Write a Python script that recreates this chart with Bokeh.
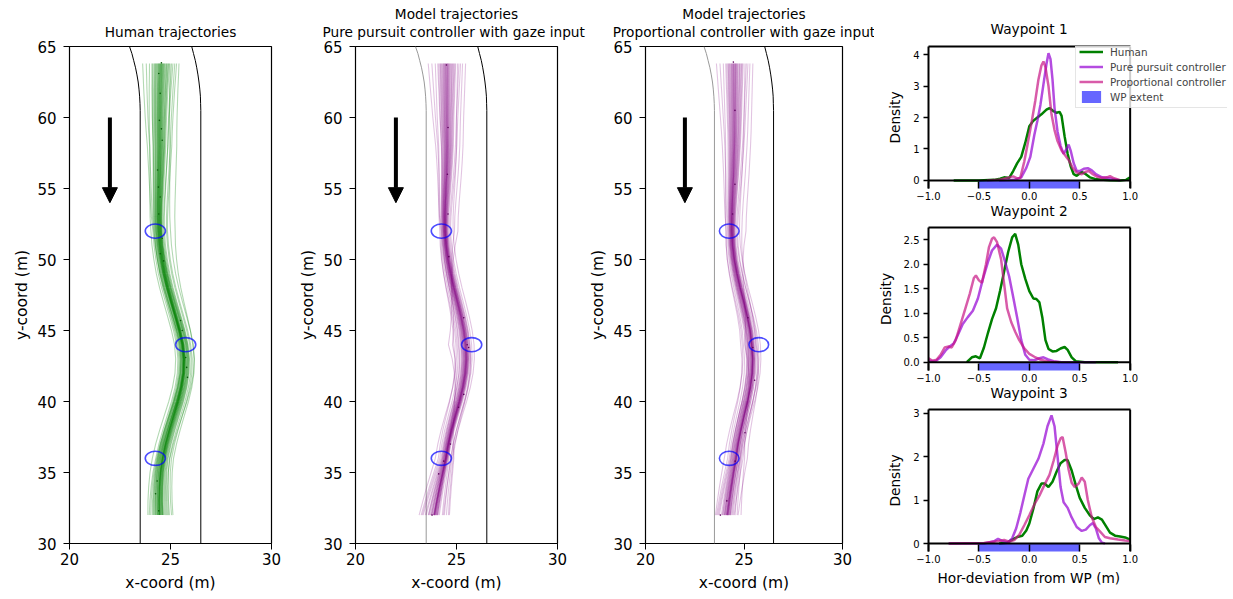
import numpy as np
from bokeh.plotting import figure
from bokeh.layouts import row, column
from bokeh.models import (Range1d, FixedTicker, LinearAxis, Arrow, NormalHead,
                          Span, Legend, LegendItem, Title)
from bokeh.embed import file_html
from bokeh.resources import INLINE

FONT = "DejaVu Sans"

# ---------------- road, waypoints, driving direction (metres) ----------------
ROAD_EDGE_Y = [65.0, 64.5, 64.0, 63.5, 63.0, 62.5, 62.0, 61.5, 61.0, 60.5, 30.0]
ROAD_LEFT_X = [22.97, 23.09, 23.18, 23.27, 23.34, 23.40, 23.44, 23.47, 23.49, 23.50, 23.50]
ROAD_RIGHT_X = [26.05, 26.14, 26.23, 26.30, 26.36, 26.41, 26.45, 26.48, 26.49, 26.50, 26.50]

WP_X = [24.25, 25.75, 24.25]
WP_Y = [52.0, 44.0, 36.0]
WP_RADIUS = 0.5
WP_EXTENT = [-0.5, 0.5]

ARROW_X = 22.0
ARROW_Y = [60.0, 54.0]

X_TICKS = [20, 25, 30]
Y_TICKS = [30, 35, 40, 45, 50, 55, 60, 65]
DENS_X_LIMITS = [-1.0, 1.0]
DENS_X_TICKS = [-1, -0.5, 0, 0.5, 1]

# ---------------- trajectory bundles ----------------
# mean lateral position of each bundle along the road
Y_GRID = [63.8, 63, 62, 61, 60, 59, 58, 57, 56, 55, 54, 53, 52, 51, 50, 49, 48,
          47, 46, 45, 44, 43, 42, 41, 40, 39, 38, 37, 36, 35, 34, 33, 32]
HUMAN_CENTER = [24.55, 24.53, 24.50, 24.48, 24.46, 24.45, 24.45, 24.43, 24.41, 24.39,
                24.37, 24.36, 24.38, 24.43, 24.52, 24.64, 24.80, 24.99, 25.19, 25.38,
                25.53, 25.60, 25.58, 25.47, 25.30, 25.09, 24.88, 24.69, 24.54, 24.45,
                24.41, 24.40, 24.42]
PP_CENTER = [24.50, 24.50, 24.50, 24.50, 24.50, 24.51, 24.52, 24.51, 24.49, 24.46,
             24.43, 24.41, 24.42, 24.47, 24.56, 24.69, 24.85, 25.03, 25.20, 25.34,
             25.43, 25.45, 25.39, 25.26, 25.08, 24.87, 24.67, 24.50, 24.37, 24.24,
             24.11, 23.99, 23.88]
PR_CENTER = [24.50, 24.50, 24.50, 24.50, 24.50, 24.50, 24.49, 24.47, 24.45, 24.42,
             24.39, 24.37, 24.37, 24.41, 24.50, 24.64, 24.81, 25.00, 25.18, 25.33,
             25.42, 25.45, 25.41, 25.30, 25.14, 24.95, 24.77, 24.61, 24.49, 24.39,
             24.30, 24.22, 24.15]

# individual runs: start x, deviation at WP1/WP2/WP3, end x
HUMAN_START = [24.52, 24.31, 24.88, 24.12, 24.65, 25.21, 24.44, 23.96, 24.73, 24.58,
               24.25, 24.95, 24.40, 25.42, 24.60, 24.18, 24.83, 24.50, 23.62, 24.70,
               24.35, 25.05, 24.47, 24.62, 24.08, 24.90, 24.55, 25.30, 24.28, 24.77,
               24.43, 23.80, 24.67, 24.56, 25.12, 24.38, 24.81, 24.49, 24.22, 24.98]
HUMAN_DEV1 = [0.18, 0.05, 0.31, -0.06, 0.22, 0.55, 0.14, -0.22, 0.26, 0.20,
              0.02, 0.36, 0.12, 0.98, 0.24, -0.03, 0.29, 0.17, -0.12, 0.27,
              0.09, 0.45, 0.16, 0.23, 0.00, 0.32, 0.19, 0.60, 0.07, 0.28,
              0.13, -0.08, 0.25, 0.21, 0.40, 0.11, 0.30, 0.15, 0.04, 0.75]
HUMAN_DEV2 = [-0.14, -0.28, 0.04, -0.35, -0.12, 0.20, -0.17, -0.55, -0.08, -0.15,
              -0.30, 0.08, -0.19, 0.35, -0.10, -0.40, -0.02, -0.16, -0.45, -0.06,
              -0.22, 0.12, -0.18, -0.11, -0.32, 0.06, -0.13, 0.25, -0.24, 0.00,
              -0.20, -0.26, -0.09, -0.15, 0.10, -0.21, 0.02, -0.17, -0.12, 0.38]
HUMAN_DEV3 = [0.35, 0.20, 0.50, 0.11, 0.38, 0.70, 0.33, -0.15, 0.45, 0.36,
              0.15, 0.56, 0.28, 0.90, 0.40, 0.09, 0.47, 0.32, 0.02, 0.43,
              0.23, 0.63, 0.30, 0.41, 0.13, 0.53, 0.37, 0.80, 0.17, 0.44,
              0.26, 0.06, 0.39, 0.35, 0.60, 0.25, 0.48, 0.34, 0.20, 0.72]
HUMAN_END = [24.45, 24.30, 24.65, 24.15, 24.50, 24.95, 24.42, 23.88, 24.60, 24.47,
             24.22, 24.75, 24.38, 25.12, 24.52, 24.10, 24.62, 24.44, 23.95, 24.57,
             24.33, 24.85, 24.40, 24.55, 24.18, 24.70, 24.46, 25.05, 24.27, 24.58,
             24.36, 24.02, 24.50, 24.45, 24.80, 24.35, 24.62, 24.43, 24.25, 24.90]

MODEL_START = [24.50, 24.30, 24.85, 24.12, 24.62, 25.20, 24.42, 23.95, 24.70, 24.56,
               24.24, 24.92, 24.38, 25.45, 24.58, 24.18, 24.80, 24.48, 23.60, 24.68,
               24.34, 25.05, 24.46, 24.60, 24.07, 24.88, 24.53, 25.30, 24.27, 24.75,
               24.41, 23.78, 24.65, 24.55, 25.12, 24.36, 24.78, 24.47, 24.20, 24.96]

PP_DEV1 = [0.19, 0.10, 0.28, 0.02, 0.21, 0.45, 0.15, -0.08, 0.25, 0.18,
           0.06, 0.32, 0.13, 0.82, 0.20, 0.04, 0.27, 0.17, -0.02, 0.23,
           0.11, 0.58, 0.16, 0.22, 0.08, 0.30, 0.19, 0.65, 0.12, 0.24,
           0.14, 0.00, 0.21, 0.18, 0.40, 0.13, 0.26, 0.17, 0.09, 0.35]
PP_DEV2 = [-0.30, -0.45, -0.18, -0.55, -0.27, 0.00, -0.36, -0.78, -0.22, -0.31,
           -0.50, -0.12, -0.40, -1.15, -0.28, -0.62, -0.20, -0.33, -0.88, -0.25,
           -0.43, 0.12, -0.35, -0.27, -0.66, -0.15, -0.32, -0.95, -0.47, -0.23,
           -0.38, -0.72, -0.26, -0.30, -0.08, -0.41, -0.19, -0.34, -0.52, -0.10]
PP_DEV3 = [0.22, 0.12, 0.30, 0.02, 0.24, 0.45, 0.18, -0.30, 0.27, 0.21,
           0.06, 0.35, 0.16, 0.62, 0.23, -0.02, 0.28, 0.20, -0.15, 0.25,
           0.14, 0.52, 0.19, 0.23, 0.05, 0.32, 0.22, 0.38, 0.10, 0.26,
           0.17, -0.08, 0.24, 0.21, 0.48, 0.13, 0.29, 0.20, 0.09, 0.58]
PP_END = [23.90, 23.70, 24.05, 23.45, 23.92, 24.40, 23.85, 23.15, 24.00, 23.90,
          23.60, 24.15, 23.80, 24.65, 23.95, 23.35, 24.05, 23.88, 23.25, 23.98,
          23.75, 24.50, 23.85, 23.93, 23.50, 24.10, 23.90, 24.30, 23.65, 24.00,
          23.78, 23.30, 23.95, 23.90, 24.35, 23.75, 24.05, 23.88, 23.62, 24.60]

PR_DEV1 = [0.14, 0.05, 0.24, -0.02, 0.17, 0.42, 0.10, -0.17, 0.20, 0.13,
           0.02, 0.28, 0.08, 0.85, 0.15, 0.00, 0.23, 0.12, -0.15, 0.18,
           0.06, 0.52, 0.11, 0.16, -0.05, 0.26, 0.14, 0.64, 0.04, 0.21,
           0.09, -0.08, 0.19, 0.13, 0.36, 0.07, 0.22, 0.12, 0.03, 0.30]
PR_DEV2 = [-0.35, -0.52, -0.26, -0.60, -0.37, -0.08, -0.42, -0.84, -0.30, -0.36,
           -0.56, -0.20, -0.45, -0.72, -0.33, -0.64, -0.28, -0.39, -0.92, -0.34,
           -0.49, 0.08, -0.40, -0.36, -0.68, -0.24, -0.35, -0.16, -0.54, -0.31,
           -0.44, -0.78, -0.33, -0.38, -0.02, -0.47, -0.27, -0.39, -0.57, -0.13]
PR_DEV3 = [0.33, 0.18, 0.45, 0.05, 0.36, 0.58, 0.28, -0.25, 0.40, 0.34,
           0.12, 0.52, 0.25, 0.78, 0.35, 0.08, 0.47, 0.31, -0.08, 0.38,
           0.22, 0.63, 0.30, 0.37, 0.10, 0.54, 0.33, 0.70, 0.18, 0.42,
           0.27, 0.00, 0.37, 0.34, 0.56, 0.23, 0.46, 0.31, 0.15, 0.92]
PR_END = [24.15, 24.00, 24.30, 23.70, 24.18, 24.55, 24.10, 23.55, 24.25, 24.15,
          23.90, 24.40, 24.05, 24.85, 24.20, 23.75, 24.30, 24.12, 23.60, 24.22,
          24.00, 24.65, 24.10, 24.18, 23.85, 24.35, 24.15, 24.50, 23.95, 24.25,
          24.05, 23.65, 24.20, 24.15, 24.45, 24.02, 24.30, 24.12, 23.92, 24.70]

# gaze landing points on the road
HUMAN_DOT_X = [24.55, 24.42, 24.49, 24.45, 24.55, 24.59, 24.36, 24.40, 24.49, 24.42,
               24.59, 24.49, 24.66, 25.50, 25.58, 25.75, 25.80, 25.84, 24.34, 24.26, 24.42]
HUMAN_DOT_Y = [63.85, 63.1, 61.7, 59.8, 59.2, 58.4, 56.3, 55.1, 54.4, 53.2,
               51.5, 50.4, 49.9, 45.7, 45.0, 43.1, 42.4, 41.7, 34.4, 33.5, 32.3]
PP_DOT_X = [24.50, 24.58, 24.55, 24.58, 24.62, 25.36, 25.53, 25.60, 25.36, 25.10,
            24.70, 24.37, 24.12, 23.79]
PP_DOT_Y = [63.7, 59.3, 56.0, 53.2, 50.2, 45.9, 44.0, 43.8, 40.5, 39.6,
            37.0, 35.8, 34.9, 32.0]
PR_DOT_X = [24.46, 24.54, 24.54, 24.42, 25.20, 25.45, 25.54, 25.05, 24.55, 24.13, 23.80]
PR_DOT_Y = [63.9, 60.5, 55.3, 53.2, 45.9, 43.8, 41.5, 37.8, 35.8, 33.0, 32.0]

# ---------------- deviation densities at each waypoint ----------------
WP1_HUMAN_X = [-0.75, -0.5, -0.35, -0.29, -0.25, -0.2, -0.16, -0.12, -0.08, -0.04, 0.0,
               0.04, 0.08, 0.12, 0.17, 0.2, 0.24, 0.27, 0.3, 0.32, 0.35, 0.38, 0.41,
               0.44, 0.47, 0.52, 0.56, 0.6, 0.65, 0.7, 0.8, 0.9, 0.96, 1.0]
WP1_HUMAN_D = [0.0, 0.0, 0.02, 0.06, 0.1, 0.08, 0.3, 0.55, 0.75, 1.2, 1.72,
               1.9, 2.0, 2.1, 2.25, 2.3, 2.2, 2.15, 2.18, 2.05, 1.4, 0.85, 0.45,
               0.2, 0.15, 0.27, 0.2, 0.1, 0.05, 0.03, 0.01, 0.0, 0.02, 0.1]
WP1_PP_X = [-0.3, -0.15, -0.08, -0.03, 0.01, 0.05, 0.08, 0.11, 0.14, 0.17, 0.19, 0.21,
            0.23, 0.25, 0.28, 0.31, 0.34, 0.37, 0.39, 0.41, 0.44, 0.47, 0.5, 0.54,
            0.58, 0.62, 0.66, 0.72, 0.78, 0.84, 0.9]
WP1_PP_D = [0.0, 0.02, 0.1, 0.4, 0.75, 1.45, 1.9, 2.4, 3.05, 3.7, 4.04, 3.85,
            3.2, 2.3, 1.55, 1.1, 0.85, 1.0, 1.14, 0.95, 0.55, 0.3, 0.3, 0.37,
            0.39, 0.32, 0.2, 0.1, 0.08, 0.04, 0.0]
WP1_PR_X = [-0.42, -0.3, -0.2, -0.16, -0.12, -0.09, -0.05, -0.02, 0.02, 0.06, 0.09,
            0.12, 0.14, 0.16, 0.19, 0.22, 0.25, 0.28, 0.32, 0.36, 0.39, 0.43, 0.47,
            0.52, 0.56, 0.59, 0.63, 0.67, 0.72, 0.77, 0.8, 0.84, 0.9]
WP1_PR_D = [0.0, 0.02, 0.1, 0.13, 0.07, 0.08, 0.6, 1.1, 1.8, 2.55, 3.2,
            3.65, 3.78, 3.6, 3.0, 2.1, 1.6, 1.25, 0.95, 0.78, 0.65, 0.4, 0.25,
            0.2, 0.28, 0.3, 0.2, 0.12, 0.08, 0.1, 0.14, 0.07, 0.01]

WP2_HUMAN_X = [-0.62, -0.57, -0.53, -0.49, -0.45, -0.41, -0.37, -0.33, -0.29, -0.25,
               -0.21, -0.17, -0.14, -0.11, -0.08, -0.04, 0.0, 0.04, 0.07, 0.1, 0.13,
               0.16, 0.19, 0.23, 0.27, 0.31, 0.35, 0.38, 0.42, 0.46, 0.55, 0.88]
WP2_HUMAN_D = [0.0, 0.1, 0.12, 0.08, 0.3, 0.6, 0.88, 1.1, 1.46, 1.85,
               2.25, 2.55, 2.62, 2.4, 2.0, 1.7, 1.45, 1.3, 1.29, 1.22, 0.9,
               0.45, 0.27, 0.22, 0.23, 0.28, 0.31, 0.25, 0.1, 0.02, 0.0, 0.0]
WP2_PP_X = [-1.0, -0.93, -0.88, -0.83, -0.79, -0.75, -0.71, -0.66, -0.61, -0.56, -0.51,
            -0.46, -0.41, -0.37, -0.32, -0.28, -0.24, -0.2, -0.16, -0.12, -0.08, -0.04,
            0.0, 0.05, 0.1, 0.14, 0.18, 0.24, 0.32, 0.66]
WP2_PP_D = [0.03, 0.02, 0.1, 0.24, 0.32, 0.38, 0.55, 0.78, 0.92, 1.05, 1.3,
            1.7, 2.05, 2.28, 2.4, 2.32, 2.05, 1.75, 1.33, 0.9, 0.45, 0.15,
            0.05, 0.04, 0.08, 0.1, 0.06, 0.02, 0.0, 0.0]
WP2_PR_X = [-1.0, -0.96, -0.92, -0.88, -0.84, -0.8, -0.77, -0.73, -0.69, -0.64, -0.59,
            -0.55, -0.53, -0.5, -0.47, -0.43, -0.4, -0.37, -0.35, -0.32, -0.28, -0.25,
            -0.22, -0.18, -0.14, -0.1, -0.05, 0.0, 0.05, 0.1, 0.15, 0.2, 0.3]
WP2_PR_D = [0.08, 0.03, 0.05, 0.15, 0.3, 0.32, 0.3, 0.45, 0.72, 1.06, 1.4,
            1.72, 1.77, 1.67, 1.62, 2.0, 2.35, 2.52, 2.55, 2.45, 2.1, 1.6,
            1.1, 0.82, 0.62, 0.45, 0.28, 0.17, 0.11, 0.06, 0.03, 0.01, 0.0]

WP3_HUMAN_X = [-0.3, -0.22, -0.16, -0.12, -0.07, -0.03, 0.0, 0.04, 0.08, 0.12, 0.15,
               0.19, 0.23, 0.27, 0.31, 0.35, 0.38, 0.42, 0.46, 0.5, 0.55, 0.6, 0.64,
               0.68, 0.72, 0.76, 0.8, 0.85, 0.9, 0.95, 1.0]
WP3_HUMAN_D = [0.0, 0.02, 0.1, 0.15, 0.18, 0.3, 0.46, 0.8, 1.2, 1.38, 1.38,
               1.3, 1.42, 1.65, 1.85, 1.92, 1.92, 1.68, 1.35, 1.05, 0.82, 0.65, 0.56,
               0.6, 0.55, 0.4, 0.25, 0.18, 0.16, 0.14, 0.09]
WP3_PP_X = [-0.8, -0.45, -0.35, -0.31, -0.27, -0.21, -0.17, -0.13, -0.09, -0.05, -0.01,
            0.04, 0.09, 0.14, 0.18, 0.22, 0.25, 0.28, 0.31, 0.34, 0.38, 0.42, 0.47,
            0.52, 0.56, 0.6, 0.63, 0.66, 0.69, 0.72, 0.75]
WP3_PP_D = [0.0, 0.0, 0.05, 0.11, 0.06, 0.03, 0.12, 0.35, 0.7, 1.1, 1.49,
            1.72, 1.95, 2.3, 2.7, 2.95, 2.7, 2.0, 1.3, 0.95, 0.82, 0.6, 0.38,
            0.29, 0.32, 0.42, 0.47, 0.35, 0.12, 0.02, 0.0]
WP3_PR_X = [-0.8, -0.45, -0.3, -0.25, -0.2, -0.15, -0.1, -0.05, 0.0, 0.05, 0.1,
            0.15, 0.2, 0.24, 0.28, 0.31, 0.33, 0.36, 0.39, 0.42, 0.45, 0.49, 0.52,
            0.55, 0.58, 0.62, 0.66, 0.7, 0.75, 0.8, 0.88, 0.95, 1.0]
WP3_PR_D = [0.0, 0.01, 0.06, 0.08, 0.04, 0.08, 0.2, 0.42, 0.65, 0.9, 1.1,
            1.35, 1.58, 1.9, 2.25, 2.42, 2.45, 2.1, 1.7, 1.4, 1.3, 1.38, 1.52,
            1.42, 1.0, 0.6, 0.38, 0.28, 0.15, 0.12, 0.09, 0.07, 0.06]

SERIES_LABELS = ["Human", "Pure pursuit controller", "Proportional controller"]
SERIES_COLORS = ["green", "darkviolet", "mediumvioletred"]
SERIES_ALPHAS = [1.0, 0.7, 0.7]

DENS_PX_PER_UNIT = 101.5   # horizontal scale of the density panels
DENS_FRAME_PX = 301        # frame width, leaving room on the right for the legend


def build_paths(center, start, dev1, dev2, dev3, end):
    """Bundle centre line plus each run's own offset, pinned at start, waypoints and end."""
    y_asc = np.array(Y_GRID[::-1], dtype=float)
    c_asc = np.array(center[::-1], dtype=float)
    knot_y = np.array([Y_GRID[-1], WP_Y[2], WP_Y[1], WP_Y[0], Y_GRID[0]])
    c_knot = np.interp(knot_y, y_asc, c_asc)
    xs, ys = [], []
    for s, a, b, c, e in zip(start, dev1, dev2, dev3, end):
        kx = np.array([e, WP_X[2] + c, WP_X[1] + b, WP_X[0] + a, s])
        off = np.interp(y_asc, knot_y, kx - c_knot)
        xs.append(list(c_asc + off))
        ys.append(list(y_asc))
    return xs, ys


def style_axis(ax, tick_size, label_size, tick_out, standoff, label_standoff):
    ax.major_label_text_font = FONT
    ax.major_label_text_font_size = tick_size
    ax.major_label_text_color = "black"
    ax.axis_label_text_font = FONT
    ax.axis_label_text_font_size = label_size
    ax.axis_label_text_font_style = "normal"
    ax.axis_label_text_color = "black"
    ax.major_tick_out = tick_out
    ax.major_tick_in = 0
    ax.minor_tick_out = 0
    ax.minor_tick_in = 0
    ax.major_tick_line_color = "black"
    ax.major_tick_line_width = 1
    ax.major_label_standoff = standoff
    ax.axis_label_standoff = label_standoff


def make_title(text, standoff=0, align="center", offset=0, valign="bottom"):
    return Title(text=text, align=align, offset=offset, standoff=standoff,
                 vertical_align=valign, text_font=FONT, text_font_size="13.7px",
                 text_font_style="normal", text_color="black")


def bare_axis(gap=0, bounds="auto", line_color="black"):
    """An axis with no ticks or labels: a spine, plus a blank gap above it."""
    ax = LinearAxis(ticker=FixedTicker(ticks=[]), bounds=bounds, major_tick_out=0,
                    major_tick_in=0, minor_tick_out=0, minor_tick_in=0,
                    major_label_standoff=0, major_label_text_font_size="0px",
                    axis_line_width=2, axis_line_color=line_color,
                    major_tick_line_color=None)
    if gap > 0:
        ax.axis_label = " "
        ax.axis_label_text_font_size = "1px"
        ax.axis_label_standoff = gap
    return ax


def trajectory_figure(titles, width, left, right, center, start, dev1, dev2, dev3, end,
                      color, alpha, dot_x, dot_y, dot_color, left_edge_color,
                      long_line_offset=None):
    p = figure(width=width, height=599, x_range=Range1d(20, 30), y_range=Range1d(30, 65),
               min_border_left=left, min_border_right=right, min_border_top=46,
               min_border_bottom=56, output_backend="svg", toolbar_location=None,
               x_axis_label="x-coord (m)", y_axis_label="y-coord (m)")
    p.title.visible = False
    xa = p.below[0]
    ya = p.left[0]
    xa.ticker = FixedTicker(ticks=X_TICKS)
    ya.ticker = FixedTicker(ticks=Y_TICKS)
    style_axis(xa, "15px", "15.5px", 6, 3, 6)
    style_axis(ya, "15px", "15.5px", 6, 7, 3)
    xa.axis_line_color = None
    ya.axis_line_color = None

    p.add_layout(bare_axis(gap=3, line_color=None), "above")
    # titles listed from the frame outwards
    for i, text in enumerate(titles):
        if i == 0 and long_line_offset is not None:
            p.add_layout(make_title(text, 0, "left", long_line_offset), "above")
        else:
            p.add_layout(make_title(text, 0), "above")
    p.grid.visible = False
    p.outline_line_color = "black"
    p.outline_line_width = 1.2
    p.outline_line_alpha = 1.0

    p.line(ROAD_LEFT_X, ROAD_EDGE_Y, line_color=left_edge_color, line_width=1)
    p.line(ROAD_RIGHT_X, ROAD_EDGE_Y, line_color="black", line_width=1)

    xs, ys = build_paths(center, start, dev1, dev2, dev3, end)
    p.multi_line(xs, ys, line_color=color, line_alpha=alpha, line_width=1.1)
    p.scatter(dot_x, dot_y, size=1.6, fill_color=dot_color, line_color=None)

    p.ellipse(WP_X, WP_Y, width=2 * WP_RADIUS, height=2 * WP_RADIUS, fill_color=None,
              line_color="blue", line_alpha=0.7, line_width=1.6)

    p.add_layout(Arrow(end=NormalHead(size=15, fill_color="black", line_color="black"),
                       x_start=ARROW_X, y_start=ARROW_Y[0], x_end=ARROW_X, y_end=ARROW_Y[1],
                       line_color="black", line_width=4))
    return p


def density_figure(height, top, bottom, y_start, y_end, y_labels, curves, top_gap=0,
                   title_above=None, title_below=None, below_standoff=0, below_offset=62,
                   with_legend=False):
    x_end = DENS_X_LIMITS[0] + DENS_FRAME_PX / DENS_PX_PER_UNIT
    p = figure(width=359, height=height, x_range=Range1d(DENS_X_LIMITS[0], x_end),
               y_range=Range1d(y_start, y_end), min_border_left=52, min_border_right=6,
               min_border_top=top, min_border_bottom=bottom, output_backend="svg",
               toolbar_location=None, y_axis_label="Density")
    p.title.visible = False
    p.grid.visible = False
    p.outline_line_color = None

    ax_x = p.below[0]
    ax_y = p.left[0]
    style_axis(ax_x, "10px", "13.7px", 0, 3, 5)
    style_axis(ax_y, "10px", "13.7px", 5, 4, 7)
    ax_x.ticker = FixedTicker(ticks=DENS_X_TICKS)
    ax_x.major_label_overrides = {-1: "\u22121.0", -0.5: "\u22120.5", 0: "0.0",
                                  0.5: "0.5", 1: "1.0"}
    ax_x.axis_line_color = None
    ax_x.major_tick_in = 7
    ax_x.major_tick_out = 0
    ax_x.major_tick_line_width = 1.5
    ax_y.ticker = FixedTicker(ticks=list(y_labels.keys()))
    ax_y.major_label_overrides = y_labels
    ax_y.axis_line_width = 2
    ax_y.major_tick_line_width = 1.5

    # top spine over the data interval only, right spine at its upper end
    p.add_layout(bare_axis(gap=top_gap, bounds=tuple(DENS_X_LIMITS)), "above")
    p.add_layout(Span(location=DENS_X_LIMITS[1], dimension="height",
                      line_color="black", line_width=2))

    if title_above:
        p.add_layout(make_title(title_above, 0, "left", 62), "above")
    if title_below:
        p.add_layout(make_title(title_below, below_standoff, "left", below_offset,
                                valign="top"), "below")

    renderers = []
    for (cx, cy), color, alpha in zip(curves, SERIES_COLORS, SERIES_ALPHAS):
        r = p.line(cx, cy, line_color=color, line_alpha=alpha, line_width=2.5)
        renderers.append(r)
    bar = p.quad(left=[WP_EXTENT[0]], right=[WP_EXTENT[1]], bottom=[y_start - 1], top=[0],
                 fill_color="blue", fill_alpha=0.6, line_color=None)
    renderers.append(bar)

    # bottom spine at zero density
    p.line(DENS_X_LIMITS, [0, 0], line_color="black", line_width=2)

    if with_legend:
        items = [LegendItem(label=lab, renderers=[r])
                 for lab, r in zip(SERIES_LABELS + ["WP extent"], renderers)]
        legend = Legend(items=items, location=(147, 80))
        legend.label_text_font = FONT
        legend.label_text_font_size = "10.4px"
        legend.glyph_width = 24
        legend.glyph_height = 15
        legend.label_height = 15
        legend.label_standoff = 7
        legend.spacing = 0
        legend.padding = 3
        legend.margin = 0
        legend.border_line_color = "#cccccc"
        legend.border_line_width = 1
        legend.background_fill_alpha = 0.8
        p.add_layout(legend)
    return p


f1 = trajectory_figure(["Human trajectories"], 287, 69, 16, HUMAN_CENTER, HUMAN_START,
                       HUMAN_DEV1, HUMAN_DEV2, HUMAN_DEV3, HUMAN_END, "green", 0.3,
                       HUMAN_DOT_X, HUMAN_DOT_Y, "#0b5d0b", "black")
f2 = trajectory_figure(["Pure pursuit controller with gaze input", "Model trajectories"],
                       299, 68, 29, PP_CENTER, MODEL_START, PP_DEV1, PP_DEV2, PP_DEV3, PP_END,
                       "purple", 0.23, PP_DOT_X, PP_DOT_Y, "#5c005c", "#999999",
                       long_line_offset=-33)
f3 = trajectory_figure(["Proportional controller with gaze input", "Model trajectories"],
                       288, 54, 32, PR_CENTER, MODEL_START, PR_DEV1, PR_DEV2, PR_DEV3, PR_END,
                       "purple", 0.23, PR_DOT_X, PR_DOT_Y, "#5c005c", "#999999")

fa = density_figure(221, 46, 33, -0.254, 4.254,
                    {0: "0", 1: "1", 2: "2", 3: "3", 4: "4"},
                    [(WP1_HUMAN_X, WP1_HUMAN_D), (WP1_PP_X, WP1_PP_D), (WP1_PR_X, WP1_PR_D)],
                    top_gap=6, title_above="Waypoint 1", title_below="Waypoint 2",
                    with_legend=True)
fb = density_figure(182, 6, 33, -0.17, 2.75,
                    {0: "0.0", 0.5: "0.5", 1: "1.0", 1.5: "1.5", 2: "2.0", 2.5: "2.5"},
                    [(WP2_HUMAN_X, WP2_HUMAN_D), (WP2_PP_X, WP2_PP_D), (WP2_PR_X, WP2_PR_D)],
                    title_below="Waypoint 3")
fc = density_figure(196, 6, 48, -0.184, 3.085, {0: "0", 1: "1", 2: "2", 3: "3"},
                    [(WP3_HUMAN_X, WP3_HUMAN_D), (WP3_PP_X, WP3_PP_D), (WP3_PR_X, WP3_PR_D)],
                    title_below="Hor-deviation from WP (m)", below_standoff=9,
                    below_offset=9)

layout = row(f1, f2, f3, column(fa, fb, fc))

with open("out.html", "w") as fh:
    fh.write(file_html(layout, INLINE))
